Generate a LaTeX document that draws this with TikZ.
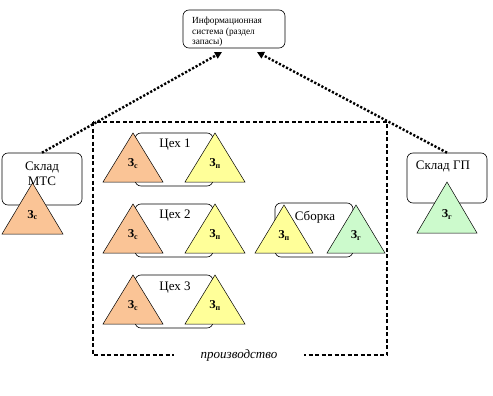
\documentclass[tikz,border=0pt]{standalone}
\usepackage{fontspec}
\setmainfont{Liberation Serif}
\usetikzlibrary{arrows.meta}
\definecolor{zorange}{RGB}{250,196,150}
\definecolor{zyellow}{RGB}{255,255,153}
\definecolor{zgreen}{RGB}{204,250,204}
\tikzset{
  rbox/.style={draw, rounded corners=6pt, line width=0.6pt, fill=white, inner sep=0pt},
  lbl/.style={font=\fontsize{13}{15.5}\selectfont, align=center, inner sep=0pt},
  tri/.style={draw, line width=0.5pt},
  zl/.style={font=\fontsize{12}{14}\selectfont\bfseries, inner sep=0pt},
  flow/.style={line width=2.4pt, dash pattern=on 2.2pt off 1.8pt, -{Triangle[length=7pt,width=7pt]}},
  frame/.style={line width=1.2pt, dash pattern=on 4pt off 2.5pt},
}
\newcommand\zap[6]{%
  \draw[tri, fill=#5] (#1,#2) -- ++(#4,#3) -- ++({-2*#4},0) -- cycle;
  \node[zl] at (#1,{#2+0.63*#3}) {#6};}
\begin{document}
\begin{tikzpicture}[x=1pt,y=-1pt]
\useasboundingbox[fill=white] (0,0) rectangle (493,396);
% production frame
\draw[frame] (93,122) rectangle (387,355);
\node[fill=white, inner xsep=27pt, inner ysep=1pt, font=\fontsize{13}{15}\selectfont\itshape] (prod) at (239,355) {производство};
% info box
\node[rbox, minimum width=102pt, minimum height=38pt] (info) at (234,29) {};
\node[font=\fontsize{9.3}{10.5}\selectfont, align=left, inner sep=0pt, anchor=west] (infoL) at (192,32) {Информационная\\система (раздел\\запасы)};
% warehouses
\node[rbox, minimum width=80pt, minimum height=52pt] (mts) at (42,179) {};
\node[lbl] (mtsL) at (42,174) {Склад\\МТС};
\node[rbox, minimum width=80pt, minimum height=50pt] (gp) at (447,178) {};
\node[lbl] (gpL) at (443,166) {Склад ГП};
\zap{32.5}{183}{51}{30.5}{zorange}{З\textsubscript{с}}
\zap{447}{182}{51}{30}{zgreen}{З\textsubscript{г}}
% workshops
\node[rbox, minimum width=78pt, minimum height=53pt] (c1) at (174,159.5) {};
\node[lbl] (c1L) at (175,145) {Цех 1};
\zap{133}{133}{49}{30}{zorange}{З\textsubscript{с}}
\zap{215}{133}{49}{30}{zyellow}{З\textsubscript{п}}
\node[rbox, minimum width=78pt, minimum height=53pt] (c2) at (174,230.5) {};
\node[lbl] (c2L) at (175,216) {Цех 2};
\zap{133}{204}{49}{30}{zorange}{З\textsubscript{с}}
\zap{215}{204}{49}{30}{zyellow}{З\textsubscript{п}}
\node[rbox, minimum width=78pt, minimum height=53pt] (c3) at (174,301.5) {};
\node[lbl] (c3L) at (175,288) {Цех 3};
\zap{133}{275}{49}{30}{zorange}{З\textsubscript{с}}
\zap{215}{275}{49}{30}{zyellow}{З\textsubscript{п}}
% assembly
\node[rbox, minimum width=78pt, minimum height=54pt] (sb) at (314,230) {};
\node[lbl] (sbL) at (315,217) {Сборка};
\zap{284}{205}{48}{29}{zyellow}{З\textsubscript{п}}
\zap{356}{205}{48}{29}{zgreen}{З\textsubscript{г}}
% information flows
\coordinate (e1) at (222,52);
\coordinate (e2) at (257,52);
\draw[flow] (mts.north) -- (e1);
\draw[flow] (gp.north) -- (e2);
\end{tikzpicture}
\end{document}
